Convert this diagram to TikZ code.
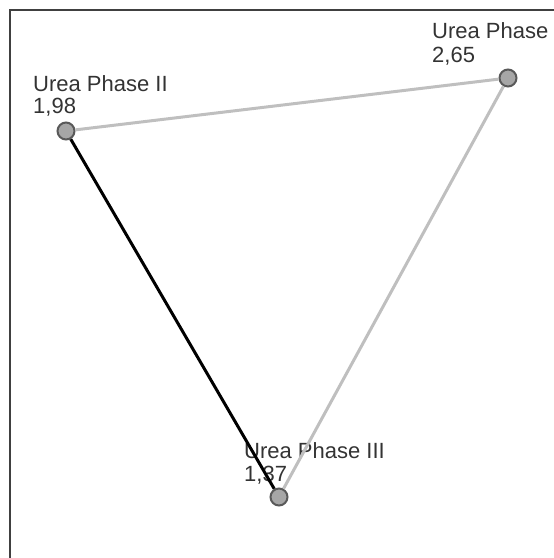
\documentclass[tikz,border=0pt]{standalone}
\usepackage{fontspec}
\setmainfont{Liberation Sans}
\begin{document}
\begin{tikzpicture}[x=1pt,y=-1pt,
  lbl/.style={anchor=base west,inner sep=0pt,text=black!80,font=\fontsize{22}{23}\selectfont},
  pt/.style={circle,draw=black!65,fill=black!35,line width=2pt,minimum size=17pt,inner sep=0pt},
  grayedge/.style={draw=black!25,line width=3pt},
  blackedge/.style={draw=black,line width=3pt}]
\useasboundingbox (0,0) rectangle (554,558);
\draw[line width=2pt,draw=black!75] (10,558) -- (10,10) -- (554,10);
% labels
\node[lbl] (l1) at (432,38) {Urea Phase};
\node[lbl] (v1) at (432,62) {2,65};
\node[lbl] (l2) at (33,91) {Urea Phase II};
\node[lbl] (v2) at (33,113) {1,98};
\node[lbl] (l3) at (244,458) {Urea Phase III};
\node[lbl] (v3) at (244,481) {1,37};
% points
\node[pt] (p1) at (508,78) {};
\node[pt] (p2) at (66,131) {};
\node[pt] (p3) at (279,497) {};
% edges
\draw[grayedge] (p2) -- (p1);
\draw[grayedge] (p1) -- (p3);
\draw[blackedge] (p2) -- (p3);
\end{tikzpicture}
\end{document}
